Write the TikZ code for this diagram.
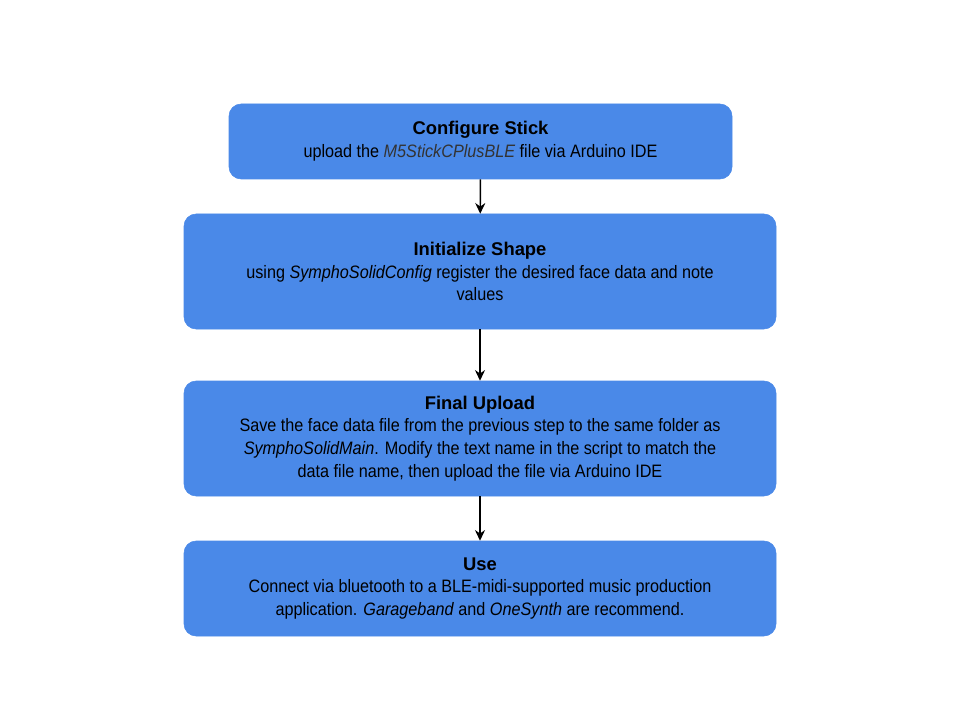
\documentclass[tikz,border=0pt]{standalone}
\usepackage{fontspec}
\setmainfont{Liberation Sans}
\newfontfamily\bodyfont[FakeStretch=0.9]{Liberation Sans}
\usetikzlibrary{arrows.meta}
\definecolor{stepblue}{HTML}{4A89E8}
\definecolor{filegray}{HTML}{333333}
\newcommand{\steptitle}[1]{{\normalfont\fontsize{13.8}{17}\selectfont\bfseries #1}}
\tikzset{
  stepbox/.style={fill=stepblue, draw=stepblue, rounded corners=9pt, align=center,
    inner sep=0pt, font=\bodyfont\fontsize{13.5}{17}\selectfont},
  flow/.style={-{Stealth[length=8pt,width=7.5pt]}, line width=1.1pt}
}
\begin{document}
\begin{tikzpicture}[x=0.75pt,y=-0.75pt]
\useasboundingbox (0,0) rectangle (960,720);
\node [stepbox, minimum width=377.25pt, minimum height=56.25pt] (stick) at (480.5,141.5)
  {\steptitle{Configure Stick}\\upload the {\color{filegray}\itshape M5StickCPlusBLE} file via Arduino IDE};
\node [stepbox, minimum width=444pt, minimum height=86.25pt] (shape) at (480,271.5)
  {\steptitle{Initialize Shape}\\using \textit{SymphoSolidConfig} register the desired face data and note\\values};
\node [stepbox, minimum width=444pt, minimum height=86.25pt] (upload) at (480,438.5)
  {\steptitle{Final Upload}\\Save the face data file from the previous step to the same folder as\\\textit{SymphoSolidMain}. Modify the text name in the script to match the\\data file name, then upload the file via Arduino IDE};
\node [stepbox, minimum width=444pt, minimum height=71.25pt] (use) at (480,588.5)
  {\steptitle{Use}\\Connect via bluetooth to a BLE-midi-supported music production\\application. \textit{Garageband} and \textit{OneSynth} are recommend.};
\draw [flow] (stick) -- (shape);
\draw [flow] (shape) -- (upload);
\draw [flow] (upload) -- (use);
\end{tikzpicture}
\end{document}
